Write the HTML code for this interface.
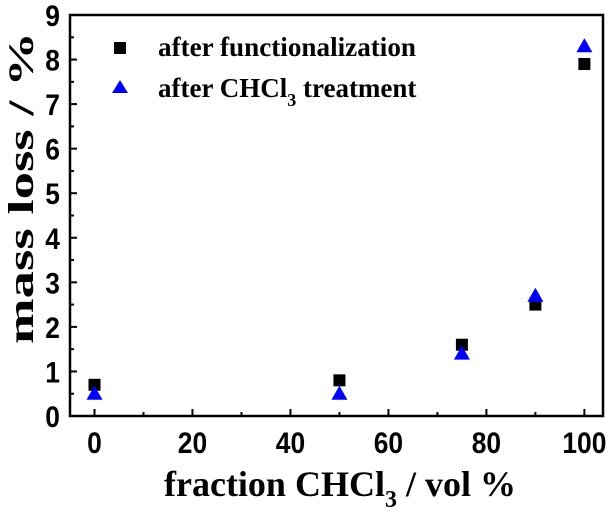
<!DOCTYPE html>
<html><head><meta charset="utf-8"><style>
body{margin:0;background:#fff;width:613px;height:508px;overflow:hidden}
text{font-family:"Liberation Sans",Arial,sans-serif;font-weight:bold}
.serif{font-family:"Liberation Serif",serif;font-weight:bold}
</style></head><body>
<svg id="chart" width="613" height="508" xmlns="http://www.w3.org/2000/svg">
<g id="axes"></g>
<g id="marks"></g>
<text class="serif" x="340" y="496" font-size="36" text-anchor="middle">fraction CHCl<tspan font-size="24" dy="11">3</tspan><tspan dy="-11"> / vol %</tspan></text>
<text class="serif" transform="translate(33,188) rotate(-90)" font-size="36" text-anchor="middle" textLength="312" lengthAdjust="spacingAndGlyphs">mass loss / %</text>
<g>
<rect x="114" y="42" width="12" height="12" fill="#000"/>
<text class="serif" x="158" y="56" font-size="27" textLength="258" lengthAdjust="spacingAndGlyphs">after functionalization</text>
<polygon points="112,93 120,80 128,93" fill="#0000ff"/>
<text class="serif" x="158" y="97" font-size="27">after CHCl<tspan font-size="18" dy="9">3</tspan><tspan dy="-9"> treatment</tspan></text>
</g>
</svg>
<script>
const xVals=[0,50,75,90,100];
const seriesFunc=[0.7,0.8,1.6,2.5,7.9];
const seriesChcl=[0.5,0.5,1.4,2.7,8.3];
const xTicks=[0,20,40,60,80,100];
const yTicks=[0,1,2,3,4,5,6,7,8,9];
const L=70,R=603,T=15,B=416;
const xMin=-5,xMax=103.8,yMin=0,yMax=9;
const sx=v=>L+(v-xMin)/(xMax-xMin)*(R-L);
const sy=v=>B-(v-yMin)/(yMax-yMin)*(B-T);
const NS="http://www.w3.org/2000/svg";
const ax=document.getElementById('axes'),mk=document.getElementById('marks');
function el(t,a,p){const e=document.createElementNS(NS,t);for(const k in a)e.setAttribute(k,a[k]);p.appendChild(e);return e;}
const fr=el('rect',{x:L,y:T,width:R-L,height:B-T,fill:'none',stroke:'#000','stroke-width':2.5},ax);


xTicks.forEach(v=>{const x=sx(v);
const t=el('line',{x1:x,x2:x,y1:B,y2:B-7,stroke:'#000','stroke-width':2},ax);


const m=el('line',{x1:sx(v+10),x2:sx(v+10),y1:B,y2:B-4,stroke:'#000','stroke-width':2},ax);


const l=el('text',{x:x,y:B+37,'font-size':30,'text-anchor':'middle',transform:`translate(${x},0) scale(0.88,1) translate(${-x},0)`},ax);l.textContent=v;

});
yTicks.forEach(v=>{const y=sy(v);
const t=el('line',{x1:L,x2:L+7,y1:y,y2:y,stroke:'#000','stroke-width':2},ax);


if(v<9){const m=el('line',{x1:L,x2:L+4,y1:sy(v+0.5),y2:sy(v+0.5),stroke:'#000','stroke-width':2},ax);

}
const l=el('text',{x:L-10,y:y+11,'font-size':30,'text-anchor':'end',transform:`translate(${L-10},0) scale(0.88,1) translate(${-(L-10)},0)`},ax);l.textContent=v;

});
xVals.forEach((xv,i)=>{
const s=el('rect',{x:sx(xv)-6,y:sy(seriesFunc[i])-6,width:12,height:12,fill:'#000'},mk);


const cx=sx(xv),cy=sy(seriesChcl[i]);
const p=el('polygon',{points:`${cx-8},${cy+6} ${cx},${cy-8} ${cx+8},${cy+6}`,fill:'#0000ff'},mk);

});
</script>
</body></html>
